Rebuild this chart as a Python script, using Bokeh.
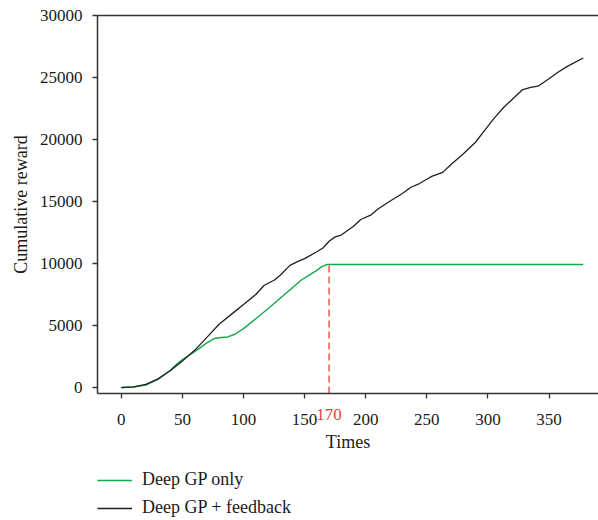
from bokeh.plotting import figure
from bokeh.layouts import column
from bokeh.models import (FixedTicker, Legend, LegendItem, Label, LinearAxis,
                          NumeralTickFormatter, Range1d)
from bokeh.embed import file_html
from bokeh.resources import INLINE

# ---- data ----
t_feedback = [0, 10, 20, 30, 40, 50, 60, 70, 80, 90, 100, 110, 117, 125, 130,
              138, 145, 150, 160, 165, 170, 175, 180, 190, 196, 204, 210, 221,
              230, 237, 244, 250, 254, 263, 270, 280, 290, 297, 305, 313, 320,
              328, 335, 341, 350, 357, 365, 378]
r_feedback = [0, 60, 260, 700, 1350, 2150, 3000, 4050, 5100, 5900, 6700, 7500,
              8250, 8650, 9050, 9850, 10200, 10400, 10950, 11250, 11800, 12150,
              12300, 13000, 13550, 13900, 14400, 15100, 15650, 16150, 16450,
              16800, 17030, 17350, 18000, 18850, 19800, 20700, 21700, 22600,
              23250, 24000, 24200, 24300, 24900, 25400, 25900, 26570]

t_gp = [0, 10, 20, 30, 40, 45, 50, 60, 70, 76, 80, 87, 93, 100, 110, 120, 125,
        130, 140, 147, 155, 160, 164, 168, 170, 200, 250, 300, 350, 378]
r_gp = [0, 40, 200, 650, 1400, 1850, 2250, 2900, 3600, 3950, 4020, 4080, 4300,
        4750, 5550, 6350, 6770, 7200, 8050, 8650, 9150, 9450, 9750, 9920, 9920,
        9920, 9920, 9920, 9920, 9920]

cut_x = [170]
cut_top = [9920]
cut_label = "170"

x_ticks = [0, 50, 100, 150, 200, 250, 300, 350]
y_ticks = [0, 5000, 10000, 15000, 20000, 25000, 30000]

series_names = ["Deep GP only", "Deep GP + feedback"]

# ---- style ----
FONT = "Liberation Serif"
FS = "17px"
FS_LAB = "18px"
AXIS_COLOR = "#333333"
GREEN = "#14a84b"
BLACK = "#231f20"
RED = "#e8412c"

x_lo, x_hi = -19.5, 390.5
y_lo, y_hi = -480, 30000
MAIN_H = 466
LEG_H = 520 - MAIN_H

p = figure(width=598, height=MAIN_H, output_backend="svg", toolbar_location=None,
           x_range=Range1d(x_lo, x_hi), y_range=Range1d(y_lo, y_hi),
           min_border_left=97, min_border_right=0, min_border_top=15,
           min_border_bottom=MAIN_H - 393)
p.outline_line_color = None
p.grid.visible = False
p.background_fill_color = "white"
p.border_fill_color = "white"

for ax in (p.xaxis[0], p.yaxis[0]):
    ax.axis_line_color = AXIS_COLOR
    ax.axis_line_width = 1.5
    ax.major_tick_line_color = AXIS_COLOR
    ax.major_tick_line_width = 1.3
    ax.major_tick_out = 5
    ax.major_tick_in = 0
    ax.minor_tick_line_color = None
    ax.major_label_text_font = FONT
    ax.major_label_text_font_size = FS
    ax.major_label_text_color = "#1a1a1a"
    ax.axis_label_text_font = FONT
    ax.axis_label_text_font_size = FS_LAB
    ax.axis_label_text_font_style = "normal"
    ax.axis_label_text_color = "#1a1a1a"

p.xaxis[0].ticker = FixedTicker(ticks=x_ticks)
p.yaxis[0].ticker = FixedTicker(ticks=y_ticks)
p.yaxis[0].formatter = NumeralTickFormatter(format="0")
p.xaxis[0].axis_label = "Times"
p.yaxis[0].axis_label = "Cumulative reward"
p.xaxis[0].major_label_standoff = 15
p.yaxis[0].major_label_standoff = 10
p.xaxis[0].axis_label_standoff = 4
p.yaxis[0].axis_label_standoff = 6

top_axis = LinearAxis(ticker=FixedTicker(ticks=[]), axis_line_color=AXIS_COLOR,
                      axis_line_width=1.5, major_tick_line_color=None,
                      minor_tick_line_color=None, major_label_text_font_size="0px")
p.add_layout(top_axis, "above")

r_g = p.line(t_gp, r_gp, line_color=GREEN, line_width=1.4)
r_b = p.line(t_feedback, r_feedback, line_color=BLACK, line_width=1.3)

p.segment(x0=cut_x, y0=[y_lo] * len(cut_x), x1=cut_x, y1=cut_top,
          line_color=RED, line_width=1.3, line_dash="7 4")

p.add_layout(Label(x=cut_x[0], y=57, y_units="screen", text=cut_label,
                   text_color=RED, text_font=FONT, text_font_size=FS,
                   text_align="center", text_baseline="top"), "below")

# legend in a strip below the chart (its frame aligns with the chart's frame)
q = figure(width=598, height=LEG_H, output_backend="svg", toolbar_location=None,
           x_axis_location=None, y_axis_location=None,
           x_range=Range1d(-20, -10), y_range=Range1d(-20, -10),
           min_border=0)
q.outline_line_color = None
q.grid.visible = False
q.border_fill_color = "white"
q.background_fill_color = "white"
lg_g = q.line(t_gp, r_gp, line_color=GREEN, line_width=1.4)
lg_b = q.line(t_feedback, r_feedback, line_color=BLACK, line_width=1.3)
legend = Legend(items=[LegendItem(label=series_names[0], renderers=[lg_g]),
                       LegendItem(label=series_names[1], renderers=[lg_b])],
                location=(0, 2), orientation="vertical",
                glyph_width=35, glyph_height=20, label_height=20,
                label_standoff=10, spacing=7, padding=0, margin=0,
                border_line_color=None, background_fill_alpha=0,
                label_text_font=FONT, label_text_font_size=FS_LAB,
                label_text_color="#1a1a1a")
q.add_layout(legend)

open("out.html", "w").write(file_html(column(p, q, spacing=0), INLINE))
